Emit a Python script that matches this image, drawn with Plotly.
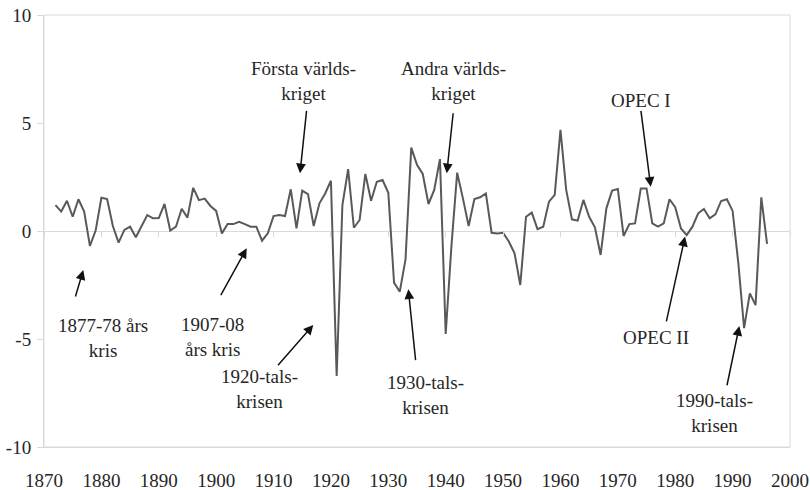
import plotly.graph_objects as go

# ---- data ----
start_year = 1872
values = [
    1.2, 0.9, 1.4, 0.66, 1.47, 0.9, -0.69, 0.02,            # 1872-1879
    1.54, 1.48, 0.23, -0.54, 0.05, 0.2, -0.29, 0.25, 0.74, 0.59,  # 1880s
    0.6, 1.25, 0.02, 0.2, 1.03, 0.62, 2.0, 1.43, 1.5, 1.16,     # 1890s
    0.93, -0.11, 0.32, 0.32, 0.42, 0.32, 0.2, 0.2, -0.45, -0.11,  # 1900s
    0.69, 0.74, 0.69, 1.93, 0.12, 1.87, 1.71, 0.23, 1.28, 1.74,   # 1910s
    2.33, -6.71, 1.2, 2.86, 0.15, 0.51, 2.64, 1.4, 2.28, 2.36,    # 1920s
    1.77, -2.39, -2.81, -1.31, 3.86, 3.06, 2.64, 1.25, 1.9, 3.33,  # 1930s
    -4.77, -0.7, 2.7, 1.51, 0.23, 1.48, 1.56, 1.74, -0.08, -0.11,  # 1940s
    -0.08, -0.49, -1.03, -2.5, 0.66, 0.85, 0.09, 0.2, 1.36, 1.67,  # 1950s
    4.68, 1.9, 0.54, 0.48, 1.44, 0.66, 0.17, -1.11, 1.05, 1.87,    # 1960s
    1.94, -0.23, 0.32, 0.35, 1.97, 1.97, 0.35, 0.2, 0.35, 1.47,    # 1970s
    1.1, 0.12, -0.19, 0.2, 0.82, 1.02, 0.59, 0.77, 1.39, 1.47,     # 1980s
    0.93, -1.5, -4.5, -2.89, -3.43, 1.56, -0.6,                    # 1990-1996
]
years = list(range(start_year, start_year + len(values)))

x_ticks = list(range(1870, 2001, 10))
y_ticks = [-10, -5, 0, 5, 10]
y_tick_text = ["-10", "-5", "0", "5", "10"]

# annotation labels and arrows (label, label x, label y, arrow tail x, tail y, head x, head y)
labels = ["1877-78 års<br>kris", "1907-08<br>års kris", "1920-tals-<br>krisen",
          "Första världs-<br>kriget", "1930-tals-<br>krisen", "Andra världs-<br>kriget",
          "OPEC I", "OPEC II", "1990-tals-<br>krisen"]
label_x = [1880.2, 1899.3, 1907.5, 1915.3, 1936.5, 1941.4, 1974.0, 1976.7, 1986.8]
label_y = [-4.95, -4.91, -7.31, 6.94, -7.59, 6.94, 6.06, -4.95, -8.43]
tail_x = [1875.40, 1900.67, 1910.55, 1915.78, 1934.78, 1941.33, 1973.99, 1978.40, 1988.97]
tail_y = [-3.10, -3.04, -6.28, 5.63, -6.05, 5.52, 5.63, -4.25, -7.21]
head_x = [1876.85, 1905.32, 1916.93, 1914.61, 1933.49, 1940.18, 1975.73, 1981.71, 1991.17]
head_y = [-1.81, -0.80, -4.35, 2.67, -2.70, 2.67, 2.05, -0.26, -4.40]

FONT = "Liberation Serif, Times New Roman, DejaVu Serif, serif"
TXT = "#262626"
AX = "#d9d9d9"

fig = go.Figure()
fig.add_trace(go.Scatter(x=years, y=values, mode="lines",
                         line=dict(color="#595959", width=2), showlegend=False,
                         hoverinfo="x+y"))
# invisible trace so the zero-line tick axis is drawn
fig.add_trace(go.Scatter(x=[years[0]], y=[values[0]], xaxis="x2", mode="lines",
                         line=dict(width=0), showlegend=False, hoverinfo="skip"))

annotations = []
for t, lx, ly, tx, ty, hx, hy in zip(labels, label_x, label_y, tail_x, tail_y, head_x, head_y):
    annotations.append(dict(x=lx, y=ly, xref="x", yref="y", text=t, showarrow=False,
                            align="center", font=dict(family=FONT, size=19, color=TXT)))
    annotations.append(dict(x=hx, y=hy, ax=tx, ay=ty, xref="x", yref="y", axref="x", ayref="y",
                            text="", showarrow=True, arrowhead=2, arrowsize=1.3,
                            arrowwidth=1.5, arrowcolor="#111111", standoff=0, startstandoff=0))

fig.update_layout(
    width=810, height=490,
    margin=dict(l=44, r=20, t=15, b=43),
    paper_bgcolor="white", plot_bgcolor="white",
    font=dict(family=FONT, size=19, color=TXT),
    xaxis=dict(range=[1870, 2000], tickvals=x_ticks, ticks="", showgrid=False,
               zeroline=False, showline=True, linecolor=AX, linewidth=1,
               automargin=False,
               ticklabelstandoff=16, tickfont=dict(family=FONT, size=19, color=TXT)),
    xaxis2=dict(range=[1870, 2000], overlaying="x", anchor="free", position=0.5,
                tickvals=x_ticks, ticks="outside", ticklen=5, tickcolor=AX, tickwidth=1,
                automargin=False,
                showticklabels=False, showline=False, showgrid=False, zeroline=False),
    yaxis=dict(range=[-10, 10], tickvals=y_ticks, ticktext=y_tick_text,
               ticks="outside", ticklen=6, tickcolor=AX,
               showgrid=False, zeroline=True, zerolinecolor=AX, zerolinewidth=1,
               showline=True, linecolor=AX, linewidth=1, automargin=False,
               ticklabelstandoff=2, tickfont=dict(family=FONT, size=19, color=TXT)),
    shapes=[dict(type="rect", xref="paper", yref="paper", x0=0, y0=0, x1=1, y1=1,
                 line=dict(color=AX, width=1), fillcolor="rgba(0,0,0,0)", layer="below")],
    annotations=annotations,
)

fig.write_html("out.html", config={"displayModeBar": False},
               post_script="document.body.style.margin='0';document.body.style.padding='0';")
